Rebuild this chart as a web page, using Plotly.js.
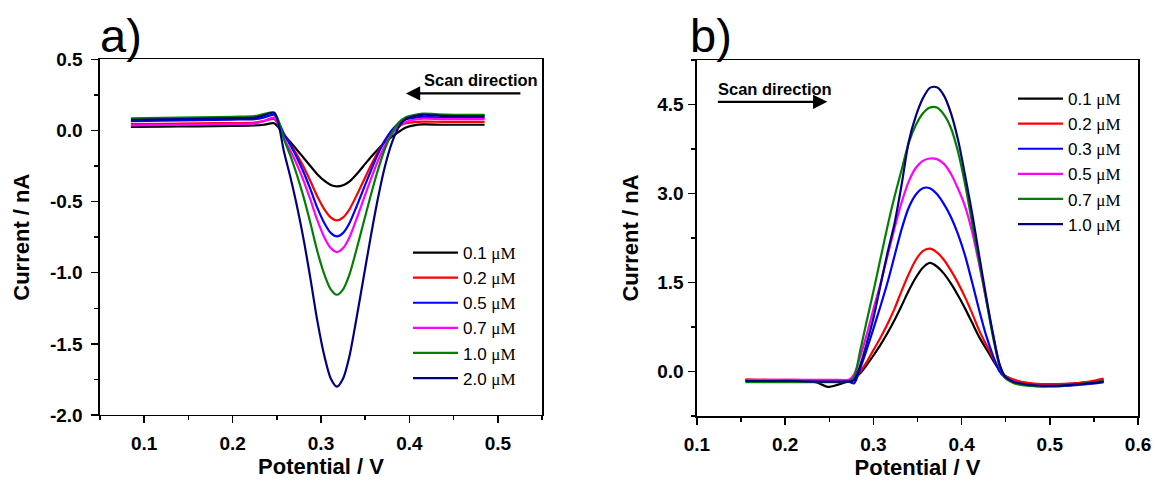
<!DOCTYPE html>
<html>
<head>
<meta charset="utf-8">
<script src="https://cdn.plot.ly/plotly-3.0.1.min.js"></script>
<style>html,body{margin:0;padding:0;background:#fff;}#chart{width:1157px;height:486px;}</style>
</head>
<body>
<div id="chart"></div>
<script>
// ---------- Panel a data (cathodic scan) ----------
const potentialA = [0.085, 0.12, 0.16, 0.2, 0.225, 0.235, 0.247, 0.252, 0.258, 0.265, 0.272, 0.28, 0.288, 0.296, 0.304, 0.311, 0.318, 0.325, 0.332, 0.34, 0.348, 0.356, 0.364, 0.372, 0.38, 0.388, 0.396, 0.405, 0.415, 0.44, 0.485];
const currentA_01 = [0.025, 0.027, 0.029, 0.032, 0.035, 0.04, 0.05, 0.02, -0.03, -0.08, -0.13, -0.19, -0.25, -0.31, -0.355, -0.383, -0.393, -0.385, -0.36, -0.31, -0.25, -0.19, -0.135, -0.085, -0.045, -0.01, 0.02, 0.035, 0.042, 0.04, 0.04];
const currentA_02 = [0.045, 0.047, 0.05, 0.052, 0.055, 0.065, 0.08, 0.037, -0.032, -0.094, -0.163, -0.252, -0.356, -0.466, -0.556, -0.611, -0.632, -0.611, -0.556, -0.46, -0.356, -0.252, -0.156, -0.073, -0.011, 0.03, 0.051, 0.058, 0.062, 0.06, 0.06];
const currentA_05 = [0.065, 0.068, 0.072, 0.076, 0.08, 0.09, 0.11, 0.06, -0.023, -0.098, -0.181, -0.289, -0.413, -0.546, -0.654, -0.72, -0.745, -0.72, -0.654, -0.538, -0.413, -0.289, -0.172, -0.073, 0.002, 0.052, 0.077, 0.088, 0.095, 0.09, 0.09];
const currentA_07 = [0.035, 0.038, 0.042, 0.046, 0.05, 0.065, 0.09, 0.037, -0.055, -0.137, -0.229, -0.349, -0.487, -0.634, -0.754, -0.827, -0.855, -0.827, -0.754, -0.625, -0.487, -0.349, -0.22, -0.11, -0.027, 0.028, 0.06, 0.075, 0.083, 0.08, 0.08];
const currentA_10 = [0.085, 0.088, 0.092, 0.096, 0.1, 0.115, 0.125, 0.067, -0.059, -0.172, -0.298, -0.462, -0.651, -0.853, -1.016, -1.117, -1.155, -1.117, -1.016, -0.84, -0.651, -0.462, -0.286, -0.134, -0.021, 0.055, 0.092, 0.108, 0.118, 0.112, 0.11];
const currentA_20 = [0.075, 0.078, 0.082, 0.086, 0.09, 0.105, 0.125, 0.043, -0.147, -0.318, -0.508, -0.755, -1.04, -1.344, -1.591, -1.743, -1.8, -1.743, -1.591, -1.325, -1.04, -0.755, -0.489, -0.261, -0.09, 0.024, 0.081, 0.1, 0.11, 0.102, 0.1];
const concA = ['0.1', '0.2', '0.5', '0.7', '1.0', '2.0'];

// ---------- Panel b data (anodic scan) ----------
const potentialB = [0.155, 0.18, 0.21, 0.235, 0.248, 0.26, 0.272, 0.278, 0.285, 0.292, 0.3, 0.308, 0.316, 0.324, 0.332, 0.34, 0.348, 0.356, 0.364, 0.372, 0.38, 0.388, 0.396, 0.404, 0.412, 0.42, 0.428, 0.436, 0.443, 0.449, 0.46, 0.475, 0.49, 0.51, 0.53, 0.545, 0.561];
const currentB_01 = [-0.15, -0.15, -0.155, -0.18, -0.26, -0.22, -0.16, -0.12, -0.03, 0.1, 0.27, 0.45, 0.65, 0.87, 1.11, 1.36, 1.58, 1.75, 1.83, 1.77, 1.65, 1.48, 1.28, 1.06, 0.82, 0.58, 0.38, 0.18, 0.02, -0.07, -0.15, -0.2, -0.22, -0.22, -0.2, -0.18, -0.15];
const currentB_02 = [-0.13, -0.14, -0.14, -0.15, -0.15, -0.15, -0.15, -0.12, 0.0, 0.15, 0.36, 0.57, 0.8, 1.06, 1.36, 1.64, 1.88, 2.03, 2.07, 2.01, 1.88, 1.7, 1.49, 1.25, 0.98, 0.69, 0.45, 0.22, 0.03, -0.07, -0.14, -0.19, -0.21, -0.21, -0.2, -0.17, -0.12];
const currentB_03 = [-0.15, -0.16, -0.16, -0.17, -0.17, -0.17, -0.17, -0.2, 0.05, 0.35, 0.72, 1.1, 1.5, 1.95, 2.4, 2.76, 2.98, 3.09, 3.09, 2.99, 2.82, 2.6, 2.31, 1.95, 1.5, 1.03, 0.6, 0.25, 0.0, -0.1, -0.18, -0.23, -0.25, -0.25, -0.23, -0.21, -0.18];
const currentB_05 = [-0.14, -0.14, -0.14, -0.14, -0.14, -0.14, -0.14, -0.05, 0.25, 0.6, 1.05, 1.48, 1.95, 2.42, 2.85, 3.2, 3.43, 3.55, 3.59, 3.58, 3.5, 3.33, 3.08, 2.78, 2.35, 1.8, 1.2, 0.6, 0.12, -0.08, -0.17, -0.22, -0.24, -0.24, -0.22, -0.2, -0.16];
const currentB_07 = [-0.18, -0.18, -0.18, -0.18, -0.18, -0.18, -0.17, -0.1, 0.35, 0.82, 1.35, 1.9, 2.45, 2.95, 3.4, 3.85, 4.15, 4.35, 4.45, 4.45, 4.33, 4.1, 3.7, 3.15, 2.5, 1.85, 1.2, 0.55, 0.1, -0.1, -0.2, -0.24, -0.25, -0.24, -0.22, -0.19, -0.16];
const currentB_10 = [-0.16, -0.16, -0.16, -0.17, -0.17, -0.17, -0.17, -0.15, 0.1, 0.45, 0.9, 1.45, 2.0, 2.5, 3.15, 3.87, 4.3, 4.6, 4.78, 4.79, 4.65, 4.35, 3.9, 3.3, 2.66, 1.95, 1.25, 0.6, 0.12, -0.08, -0.18, -0.22, -0.24, -0.24, -0.22, -0.2, -0.17];
const concB = ['0.1', '0.2', '0.3', '0.5', '0.7', '1.0'];

const unit = 'μM';
const seriesColors = ['#000000', '#FF0000', '#0000FF', '#FF00FF', '#008000', '#000080'];

// ---------- Tick labels ----------
const xTickValsA = [0.1, 0.2, 0.3, 0.4, 0.5];
const xTickTextA = ['0.1', '0.2', '0.3', '0.4', '0.5'];
const yTickValsA = [0.5, 0, -0.5, -1, -1.5, -2];
const yTickTextA = ['0.5', '0.0', '-0.5', '-1.0', '-1.5', '-2.0'];
const xTickValsB = [0.1, 0.2, 0.3, 0.4, 0.5, 0.6];
const xTickTextB = ['0.1', '0.2', '0.3', '0.4', '0.5', '0.6'];
const yTickValsB = [0, 1.5, 3, 4.5];
const yTickTextB = ['0.0', '1.5', '3.0', '4.5'];

const xTitle = 'Potential / V';
const yTitle = 'Current / nA';
const scanText = 'Scan direction';

// ---------- Build ----------
const SANS = 'Liberation Sans, Arial, sans-serif';
const SERIF = 'Liberation Serif';
const seriesA = [currentA_01, currentA_02, currentA_05, currentA_07, currentA_10, currentA_20];
const seriesB = [currentB_01, currentB_02, currentB_03, currentB_05, currentB_07, currentB_10];

function label(c) {
  return c + ' <span style="font-family:' + SERIF + '">' + unit + '</span>';
}

const traces = [];
seriesA.forEach((ys, i) => {
  traces.push({
    x: potentialA, y: ys, xaxis: 'x', yaxis: 'y', type: 'scatter', mode: 'lines',
    name: label(concA[i]), legend: 'legend',
    line: {color: seriesColors[i], width: 2.2, shape: 'spline', smoothing: 0.8},
    hoverinfo: 'skip'
  });
});
seriesB.forEach((ys, i) => {
  traces.push({
    x: potentialB, y: ys, xaxis: 'x2', yaxis: 'y2', type: 'scatter', mode: 'lines',
    name: label(concB[i]), legend: 'legend2',
    line: {color: seriesColors[i], width: 2.2, shape: 'spline', smoothing: 0.8},
    hoverinfo: 'skip'
  });
});

const titleFont = {family: SANS, size: 22, color: '#000', weight: 'bold'};

function axis(extra) {
  return Object.assign({
    showline: true, linecolor: '#000', linewidth: 1.5, mirror: true,
    showgrid: false, zeroline: false,
    ticks: 'outside', ticklen: 7, tickwidth: 1.5, tickcolor: '#000',
    tickmode: 'array',
    tickfont: {family: SANS, size: 19, color: '#000', weight: 'bold'},
    automargin: false
  }, extra);
}

const layout = {
  width: 1157, height: 486,
  margin: {l: 0, r: 0, t: 0, b: 0},
  paper_bgcolor: '#fff', plot_bgcolor: '#fff',
  showlegend: true,
  xaxis: axis({
    domain: [0.0864, 0.4685], range: [0.05, 0.55], anchor: 'y',
    tickvals: xTickValsA, ticktext: xTickTextA, ticklabelstandoff: 4,
    minor: {dtick: 0.05, tick0: 0, ticks: 'outside', ticklen: 4, tickwidth: 1.5, tickcolor: '#000'},
    title: {text: xTitle, font: titleFont, standoff: 5}
  }),
  yaxis: axis({
    domain: [0.1461, 0.878], range: [-2, 0.5], anchor: 'x',
    tickvals: yTickValsA, ticktext: yTickTextA, ticklabelstandoff: 5,
    minor: {dtick: 0.25, tick0: 0, ticks: 'outside', ticklen: 4, tickwidth: 1.5, tickcolor: '#000'},
    title: {text: yTitle, font: titleFont, standoff: 14}
  }),
  yaxis3: {
    overlaying: 'y', anchor: 'x', side: 'left', range: [-2, 0.5],
    showline: false, showgrid: false, zeroline: false, showticklabels: false,
    ticks: 'inside', ticklen: 7, tickwidth: 1.5, tickcolor: '#000',
    tickmode: 'array', tickvals: yTickValsA,
    minor: {dtick: 0.25, tick0: 0, ticks: 'inside', ticklen: 4, tickwidth: 1.5, tickcolor: '#000'}
  },
  xaxis2: axis({
    domain: [0.6024, 0.9836], range: [0.1, 0.6], anchor: 'y2',
    tickvals: xTickValsB, ticktext: xTickTextB, ticklabelstandoff: 4,
    minor: {dtick: 0.05, tick0: 0, ticks: 'outside', ticklen: 4, tickwidth: 1.5, tickcolor: '#000'},
    title: {text: xTitle, font: titleFont, standoff: 5}
  }),
  yaxis2: axis({
    domain: [0.144, 0.8765], range: [-0.75, 5.25], anchor: 'x2',
    tickvals: yTickValsB, ticktext: yTickTextB, ticklabelstandoff: 1,
    minor: {dtick: 0.75, tick0: 0, ticks: 'outside', ticklen: 4, tickwidth: 1.5, tickcolor: '#000'},
    title: {text: yTitle, font: titleFont, standoff: 12}
  }),
  legend: {
    x: 408 / 1157, xanchor: 'left', y: 1 - 235 / 486, yanchor: 'top',
    bgcolor: 'rgba(0,0,0,0)', borderwidth: 0,
    font: {family: SANS, size: 17, color: '#000'}, itemwidth: 45
  },
  legend2: {
    x: 1013 / 1157, xanchor: 'left', y: 1 - 81 / 486, yanchor: 'top',
    bgcolor: 'rgba(0,0,0,0)', borderwidth: 0,
    font: {family: SANS, size: 17, color: '#000'}, itemwidth: 45
  },
  annotations: [
    {text: 'a)', xref: 'paper', yref: 'paper', x: 98 / 1157, y: 1 - 64 / 486,
     xanchor: 'left', yanchor: 'bottom', showarrow: false,
     font: {family: SANS, size: 47, color: '#000'}},
    {text: 'b)', xref: 'paper', yref: 'paper', x: 688 / 1157, y: 1 - 64 / 486,
     xanchor: 'left', yanchor: 'bottom', showarrow: false,
     font: {family: SANS, size: 47, color: '#000'}},
    {text: scanText, xref: 'x', yref: 'y', x: 0.4815, y: 0.354, showarrow: false,
     font: {family: SANS, size: 16.5, color: '#000', weight: 'bold'}},
    {text: '', xref: 'x', yref: 'y', x: 0.396, y: 0.26, ax: 116, ay: 0,
     showarrow: true, arrowhead: 2, arrowsize: 1.3, arrowwidth: 2.2, arrowcolor: '#000'},
    {text: scanText, xref: 'x2', yref: 'y2', x: 0.1885, y: 4.76, showarrow: false,
     font: {family: SANS, size: 16.5, color: '#000', weight: 'bold'}},
    {text: '', xref: 'x2', yref: 'y2', x: 0.2478, y: 4.545, ax: -111, ay: 0,
     showarrow: true, arrowhead: 2, arrowsize: 1.3, arrowwidth: 2.2, arrowcolor: '#000'}
  ]
};

Plotly.newPlot('chart', traces, layout, {staticPlot: true, displayModeBar: false});
</script>
</body>
</html>
